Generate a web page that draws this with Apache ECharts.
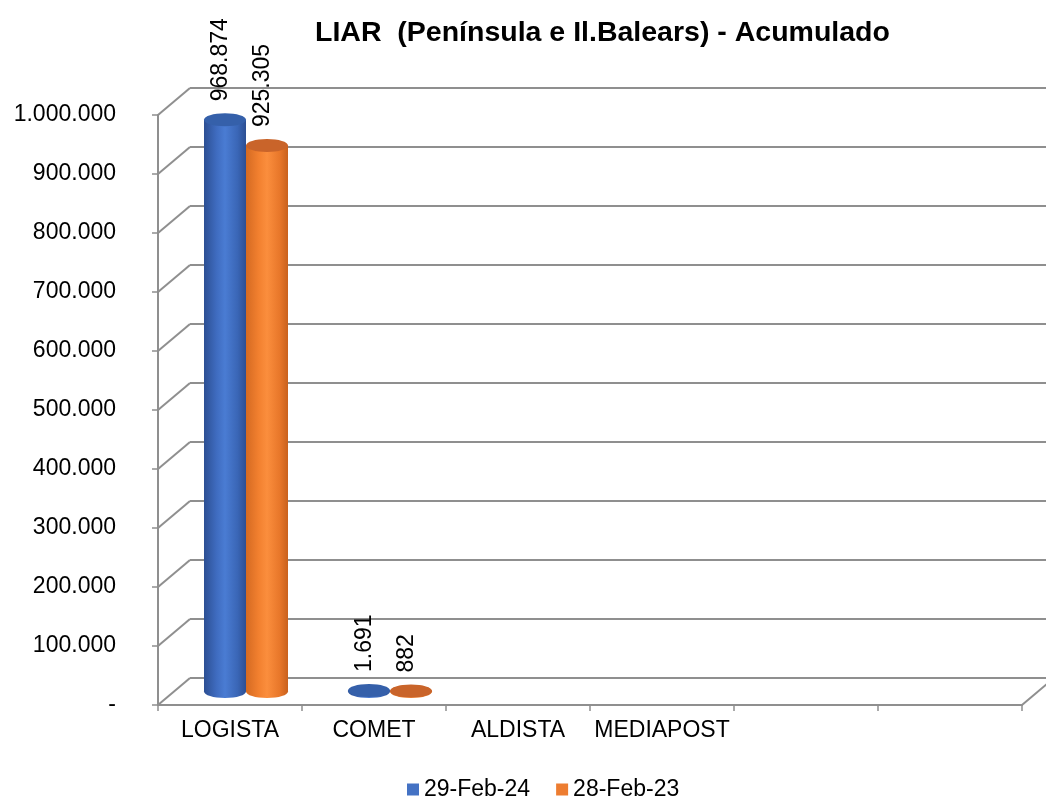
<!DOCTYPE html>
<html><head><meta charset="utf-8">
<script src="https://cdn.jsdelivr.net/npm/echarts@6/dist/echarts.min.js"></script>
<style>html,body{margin:0;padding:0;background:#fff}#c{width:1046px;height:796px}</style>
</head><body><div id="c"></div>
<script>
// ---- data ----
const categories = ['LOGISTA', 'COMET', 'ALDISTA', 'MEDIAPOST', '', ''];
const seriesNames = ['29-Feb-24', '28-Feb-23'];
const values2024 = [968874, 1691, null, null, null, null];
const values2023 = [925305, 882, null, null, null, null];
const yTicks = [0, 100000, 200000, 300000, 400000, 500000, 600000, 700000, 800000, 900000, 1000000];
const yMin = 0, yMax = 1000000, yInterval = 100000;
const titleText = 'LIAR  (Península e Il.Balears) - Acumulado';

// ---- styling ----
const FONT = '"Liberation Sans", Arial, sans-serif';
const DX = 32, DY = -27;            // 3D depth offset
const GRIDC = '#8f8f8f';
const front = { left: 158, top: 115, width: 864, height: 590 };
const back = { left: front.left + DX, top: front.top + DY, width: 864, height: 590 };
const mid = { left: front.left + DX / 2, top: front.top + DY / 2, width: 864, height: 590 };
const palettes = [
  { legend: '#4472C4', body: ['#2c4f93', '#3f6cc0', '#4a7cd3', '#3a66b6', '#2c4f93'], top: '#3560aa' },
  { legend: '#ED7D31', body: ['#d46a22', '#f2802f', '#fb8e3d', '#e8772a', '#c9611d'], top: '#c9642a' }
];

function fmt(v) {
  if (v === 0) return '-';
  return String(v).replace(/\B(?=(\d{3})+(?!\d))/g, '.');
}

function cylinder(si) {
  return function (params, api) {
    const v = api.value(1);
    if (v == null || isNaN(v)) return;
    const idx = api.value(0);
    const pTop = api.coord([idx, v]);
    const pBase = api.coord([idx, 0]);
    const w = 42, ry = 6.5;
    const cx = pTop[0] + (si === 0 ? -w / 2 : w / 2);
    const yT = pTop[1], yB = pBase[1];
    const pal = palettes[si];
    const grad = new echarts.graphic.LinearGradient(0, 0, 1, 0, [
      { offset: 0, color: pal.body[0] }, { offset: 0.3, color: pal.body[1] },
      { offset: 0.5, color: pal.body[2] }, { offset: 0.8, color: pal.body[3] },
      { offset: 1, color: pal.body[4] }
    ]);
    return {
      type: 'group',
      children: [
        { type: 'ellipse', shape: { cx: cx, cy: yB, rx: w / 2, ry: ry }, style: { fill: grad } },
        { type: 'rect', shape: { x: cx - w / 2, y: yT, width: w, height: Math.max(0, yB - yT) }, style: { fill: grad } },
        { type: 'ellipse', shape: { cx: cx, cy: yT, rx: w / 2, ry: ry }, style: { fill: pal.top } },
        { type: 'text', x: cx - 4, y: yT - ry - 12, rotation: Math.PI / 2,
          style: { text: fmt(v), fontSize: 23, fontFamily: FONT, fill: '#000', align: 'left', verticalAlign: 'middle' } }
      ]
    };
  };
}

const chart = echarts.init(document.getElementById('c'), null, { renderer: 'canvas' });
const hiddenX = { type: 'category', data: categories, show: false, boundaryGap: true };
const hiddenY = { type: 'value', min: yMin, max: yMax, interval: yInterval, show: false };

chart.setOption({
  animation: false,
  backgroundColor: '#fff',
  title: {
    text: titleText, left: 310, top: 14,
    textStyle: { fontFamily: FONT, fontSize: 28.5, fontWeight: 'bold', color: '#000' }
  },
  legend: {
    data: seriesNames, left: 402, top: 773, icon: 'rect', itemWidth: 12, itemHeight: 12, itemGap: 26,
    textStyle: { fontFamily: FONT, fontSize: 23, color: '#000' }
  },
  grid: [
    Object.assign({ containLabel: false }, front),
    Object.assign({ containLabel: false }, back),
    Object.assign({ containLabel: false }, mid)
  ],
  xAxis: [
    { type: 'category', data: categories, gridIndex: 0, boundaryGap: true,
      axisLine: { lineStyle: { color: GRIDC, width: 2 } },
      axisTick: { show: true, interval: 0, length: 6, lineStyle: { color: GRIDC, width: 1.5 } },
      axisLabel: { interval: 0, margin: 14, fontFamily: FONT, fontSize: 23, color: '#000' } },
    Object.assign({ gridIndex: 1 }, hiddenX),
    Object.assign({ gridIndex: 2 }, hiddenX)
  ],
  yAxis: [
    { type: 'value', gridIndex: 0, min: yMin, max: yMax, interval: yInterval,
      axisLine: { show: true, lineStyle: { color: GRIDC, width: 2 } },
      axisTick: { show: true, length: 6, lineStyle: { color: GRIDC, width: 1.5 } },
      splitLine: { show: false },
      axisLabel: { margin: 42, fontFamily: FONT, fontSize: 23, color: '#000', formatter: fmt } },
    { type: 'value', gridIndex: 1, min: yMin, max: yMax, interval: yInterval,
      axisLine: { show: false }, axisTick: { show: false }, axisLabel: { show: false },
      splitLine: { show: true, lineStyle: { color: GRIDC, width: 2 } } },
    Object.assign({ gridIndex: 2 }, hiddenY)
  ],
  series: [
    { type: 'custom', name: 'sidewall', xAxisIndex: 0, yAxisIndex: 0, silent: true,
      data: yTicks.map(v => [0, v]),
      renderItem: function (params, api) {
        const p = api.coord([api.value(0), api.value(1)]);
        const band = api.size([1, 0])[0];
        const x0 = p[0] - band / 2;
        return { type: 'line', shape: { x1: x0, y1: p[1], x2: x0 + DX, y2: p[1] + DY },
                 style: { stroke: GRIDC, lineWidth: 2 } };
      } },
    { type: 'custom', name: 'floorRight', xAxisIndex: 0, yAxisIndex: 0, silent: true,
      data: [[categories.length - 1, 0]],
      renderItem: function (params, api) {
        const p = api.coord([api.value(0), api.value(1)]);
        const band = api.size([1, 0])[0];
        const x0 = p[0] + band / 2;
        return { type: 'line', shape: { x1: x0, y1: p[1], x2: x0 + DX, y2: p[1] + DY },
                 style: { stroke: GRIDC, lineWidth: 2 } };
      } },
    { type: 'custom', name: seriesNames[0], xAxisIndex: 2, yAxisIndex: 2,
      itemStyle: { color: palettes[0].legend },
      data: values2024.map((v, i) => [i, v]), renderItem: cylinder(0) },
    { type: 'custom', name: seriesNames[1], xAxisIndex: 2, yAxisIndex: 2,
      itemStyle: { color: palettes[1].legend },
      data: values2023.map((v, i) => [i, v]), renderItem: cylinder(1) }
  ]
});
</script>
</body></html>
